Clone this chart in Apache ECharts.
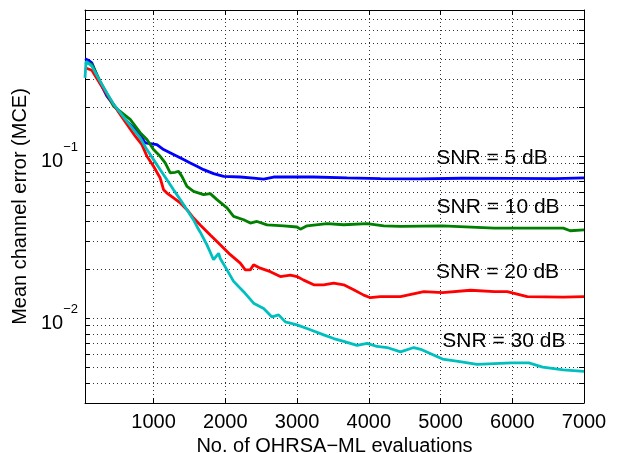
<!DOCTYPE html>
<html>
<head>
<meta charset="utf-8">
<script src="https://cdn.jsdelivr.net/npm/echarts@6/dist/echarts.min.js"></script>
<style>
html,body{margin:0;padding:0;background:#fff;}
#chart{width:621px;height:453px;}
</style>
</head>
<body>
<div id="chart"></div>
<script>
// ---- data ----
const xMin = 45, xMax = 7000;
const yMin = 0.003, yMax = 0.8;
const xTickValues = [1000, 2000, 3000, 4000, 5000, 6000, 7000];
const yLabelValues = [0.01, 0.1];
const yGridValues = [0.004, 0.005, 0.006, 0.007, 0.008, 0.009, 0.01,
  0.02, 0.03, 0.04, 0.05, 0.06, 0.07, 0.08, 0.09, 0.1,
  0.2, 0.3, 0.4, 0.5, 0.6, 0.7];

const seriesNames = ['SNR = 5 dB', 'SNR = 10 dB', 'SNR = 20 dB', 'SNR = 30 dB'];

const snr5 = [[45,0.40],[100,0.39],[140,0.378],[256,0.284],[350,0.235],[581,0.173],[721,0.150],
  [814,0.136],[884,0.121],[954,0.1197],[1047,0.118],[1140,0.110],[1279,0.1025],[1419,0.0954],
  [1512,0.091],[1605,0.0868],[1698,0.0827],[1837,0.0782],[1977,0.0752],[2209,0.0745],[2395,0.0734],
  [2535,0.0724],[2674,0.0745],[3228,0.0745],[3698,0.0735],[4162,0.0728],[4700,0.0725],[5300,0.0732],
  [6000,0.0730],[6600,0.0728],[7000,0.0735]];

const snr10 = [[45,0.38],[140,0.37],[256,0.29],[442,0.204],[675,0.169],[814,0.140],[908,0.127],
  [1000,0.110],[1093,0.100],[1163,0.091],[1233,0.0789],[1303,0.0797],[1349,0.0807],[1396,0.0752],
  [1466,0.0652],[1558,0.0607],[1698,0.058],[1791,0.0588],[1884,0.054],[2024,0.048],[2116,0.0426],
  [2256,0.0406],[2349,0.0387],[2442,0.0396],[2582,0.0377],[2814,0.0372],[3000,0.0366],[3047,0.0355],
  [3140,0.0372],[3419,0.0384],[3651,0.0378],[3977,0.0384],[4209,0.0372],[4442,0.0369],[5028,0.0372],
  [5750,0.0360],[6712,0.0360],[6808,0.0347],[7000,0.0351]];

const snr20 = [[45,0.352],[140,0.34],[256,0.28],[535,0.181],[745,0.133],[838,0.118],[908,0.100],
  [1000,0.0868],[1093,0.0734],[1140,0.0622],[1187,0.0593],[1279,0.0553],[1372,0.0515],[1466,0.0468],
  [1558,0.0416],[1651,0.0377],[1791,0.0327],[1930,0.0284],[2070,0.0247],[2209,0.0219],[2279,0.0199],
  [2349,0.0199],[2395,0.0214],[2488,0.0204],[2628,0.0194],[2767,0.0181],[2907,0.0185],[3000,0.0181],
  [3093,0.0172],[3233,0.0161],[3372,0.0161],[3511,0.0165],[3651,0.0161],[3790,0.0150],[3930,0.0139],
  [4023,0.0134],[4162,0.0136],[4442,0.0136],[4768,0.0146],[5028,0.0144],[5418,0.0149],[5750,0.0146],
  [5930,0.0146],[6209,0.0136],[6712,0.0135],[7000,0.0136]];

const snr30 = [[45,0.305],[60,0.385],[140,0.36],[256,0.29],[442,0.21],[721,0.146],[814,0.130],
  [908,0.110],[1000,0.0954],[1093,0.0827],[1187,0.0717],[1279,0.0622],[1372,0.054],[1466,0.0468],
  [1558,0.0405],[1605,0.0369],[1651,0.0340],[1745,0.0284],[1837,0.0230],[1907,0.0252],[1930,0.0234],
  [2024,0.0199],[2116,0.0169],[2256,0.0146],[2395,0.0124],[2535,0.0115],[2651,0.0102],[2744,0.0105],
  [2837,0.0095],[3000,0.0091],[3186,0.0085],[3372,0.0079],[3511,0.0075],[3651,0.0072],[3837,0.0068],
  [3977,0.0070],[4116,0.0067],[4256,0.0066],[4442,0.0062],[4628,0.0066],[4739,0.0064],[5028,0.0056],
  [5269,0.0054],[5509,0.0052],[5990,0.0053],[6231,0.0053],[6423,0.0050],[6712,0.0048],[7000,0.0047]];

const annotX = [5718, 5802, 5795, 5883];
const annotY = [0.098, 0.0485, 0.01934, 0.00719];

// ---- chart ----
const FONT = "'Liberation Sans', Arial, Helvetica, sans-serif";
const colors = ['#0000ff', '#008000', '#ff0000', '#00bfbf'];
const lines = [snr5, snr10, snr20, snr30];

function supLabel(v) {
  const e = Math.round(Math.log10(v));
  const s = e < 0 ? '\u2212' + (-e) : String(e);
  return '{b|10}{s|' + s + '}';
}

const tickStyle = {color: '#000', width: 1};
const gridLine = {show: true, lineStyle: {color: '#333', width: 1, type: [1, 3]}};

const option = {
  animation: false,
  backgroundColor: '#fff',
  textStyle: {fontFamily: FONT, color: '#000'},
  grid: {left: 85, right: 37, top: 10, bottom: 50, containLabel: false, outerBoundsMode: 'none'},
  xAxis: [{
    type: 'value', min: xMin, max: xMax, position: 'bottom',
    name: 'No. of OHRSA\u2212ML evaluations', nameLocation: 'middle', nameGap: 29,
    nameTextStyle: {fontSize: 20, color: '#000', fontFamily: FONT},
    axisLine: {show: true, onZero: false, lineStyle: tickStyle},
    axisTick: {show: true, inside: true, length: 5, customValues: xTickValues, lineStyle: tickStyle},
    axisLabel: {customValues: xTickValues, margin: 9, fontSize: 20, color: '#000', fontFamily: FONT,
      formatter: v => String(v)},
    splitLine: gridLine
  }, {
    type: 'value', min: xMin, max: xMax, position: 'top',
    axisLine: {show: true, onZero: false, lineStyle: tickStyle},
    axisTick: {show: true, inside: true, length: 5, customValues: xTickValues, lineStyle: tickStyle},
    axisLabel: {show: false},
    splitLine: {show: false}
  }],
  yAxis: [{
    type: 'log', logBase: 10, min: yMin, max: yMax, position: 'left',
    name: 'Mean channel error (MCE)', nameLocation: 'middle', nameGap: 47,
    nameTextStyle: {fontSize: 20, color: '#000', fontFamily: FONT},
    axisLine: {show: true, onZero: false, lineStyle: tickStyle},
    axisTick: {show: true, inside: true, length: 5, customValues: yGridValues, lineStyle: tickStyle},
    axisLabel: {
      customValues: yLabelValues, margin: 7, formatter: supLabel,
      rich: {
        b: {fontSize: 20, lineHeight: 30, verticalAlign: 'bottom', color: '#000', fontFamily: FONT},
        s: {fontSize: 13, lineHeight: 13, verticalAlign: 'top', color: '#000', fontFamily: FONT}
      }
    },
    splitLine: gridLine
  }, {
    type: 'log', logBase: 10, min: yMin, max: yMax, position: 'right',
    axisLine: {show: true, onZero: false, lineStyle: tickStyle},
    axisTick: {show: true, inside: true, length: 5, customValues: yGridValues, lineStyle: tickStyle},
    axisLabel: {show: false},
    splitLine: {show: false}
  }],
  series: lines.map((d, i) => ({
    name: seriesNames[i], type: 'line', data: d, showSymbol: false, symbol: 'none',
    lineStyle: {color: colors[i], width: 2.8}, itemStyle: {color: colors[i]},
    z: 2 + i
  })).concat([{
    type: 'scatter', symbolSize: 0, z: 10, silent: true,
    itemStyle: {opacity: 1},
    data: seriesNames.map((n, i) => [annotX[i], annotY[i], n]),
    label: {
      show: true, position: 'inside', formatter: p => p.data[2], opacity: 1,
      fontSize: 21, color: '#000', fontFamily: FONT, textBorderWidth: 0
    }
  }])
};

const chart = echarts.init(document.getElementById('chart'), null, {renderer: 'canvas'});
chart.setOption(option);
</script>
</body>
</html>
